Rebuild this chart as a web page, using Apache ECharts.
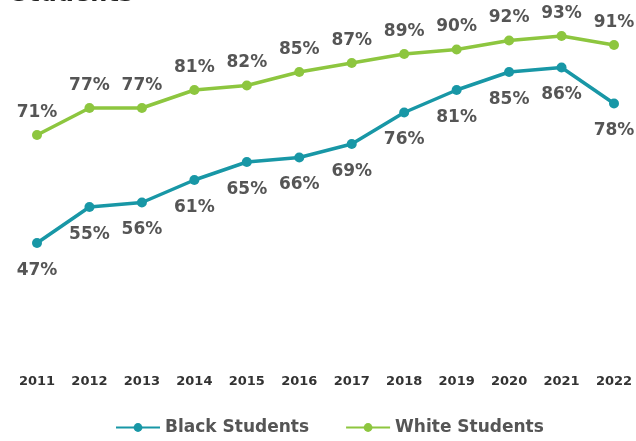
<!DOCTYPE html>
<html>
<head>
<meta charset="utf-8">
<script src="https://cdn.jsdelivr.net/npm/echarts@6/dist/echarts.min.js"></script>
<style>
  html, body { margin: 0; padding: 0; background: #ffffff; }
  #chart { width: 636px; height: 441px; }
</style>
</head>
<body>
<div id="chart"></div>
<script>
// Graduation rates by year
const years = ['2011', '2012', '2013', '2014', '2015', '2016', '2017', '2018', '2019', '2020', '2021', '2022'];
const blackStudents = [47, 55, 56, 61, 65, 66, 69, 76, 81, 85, 86, 78];
const whiteStudents = [71, 77, 77, 81, 82, 85, 87, 89, 90, 92, 93, 91];

const teal = '#1897a6';
const green = '#8dc63f';
const labelColor = '#555555';
const fontFamily = '"DejaVu Sans", Verdana, sans-serif';

const chart = echarts.init(document.getElementById('chart'));
chart.setOption({
  animation: false,
  backgroundColor: '#ffffff',
  title: {
    text: 'Students',
    left: 6,
    top: -22,
    textStyle: { fontSize: 24, fontWeight: 'bold', color: '#222222', fontFamily: fontFamily }
  },
  legend: {
    top: 414,
    left: 110,
    itemGap: 36,
    itemWidth: 44,
    itemHeight: 11,
    textStyle: { fontSize: 17, fontWeight: 'bold', color: '#555555', fontFamily: fontFamily },
    data: ['Black Students', 'White Students']
  },
  grid: { left: 37, right: 22, top: 4.5, bottom: 76.5, containLabel: false },
  xAxis: {
    type: 'category',
    data: years,
    boundaryGap: false,
    axisLine: { show: false },
    axisTick: { show: false },
    axisLabel: { color: '#333333', fontSize: 13, fontWeight: 'bold', margin: 11, fontFamily: fontFamily, interval: 0 }
  },
  yAxis: {
    type: 'value',
    min: 20,
    max: 100,
    show: false,
    splitLine: { show: false }
  },
  series: [
    {
      name: 'Black Students',
      type: 'line',
      data: blackStudents,
      color: teal,
      lineStyle: { width: 3.5, color: teal },
      symbol: 'circle',
      symbolSize: 10,
      itemStyle: { color: teal },
      label: {
        show: true,
        position: 'bottom',
        distance: 14,
        formatter: '{c}%',
        color: labelColor,
        fontSize: 17,
        fontWeight: 'bold',
        fontFamily: fontFamily
      }
    },
    {
      name: 'White Students',
      type: 'line',
      data: whiteStudents,
      color: green,
      lineStyle: { width: 3.5, color: green },
      symbol: 'circle',
      symbolSize: 10,
      itemStyle: { color: green },
      label: {
        show: true,
        position: 'top',
        distance: 9,
        formatter: '{c}%',
        color: labelColor,
        fontSize: 17,
        fontWeight: 'bold',
        fontFamily: fontFamily
      }
    }
  ]
});
</script>
</body>
</html>
